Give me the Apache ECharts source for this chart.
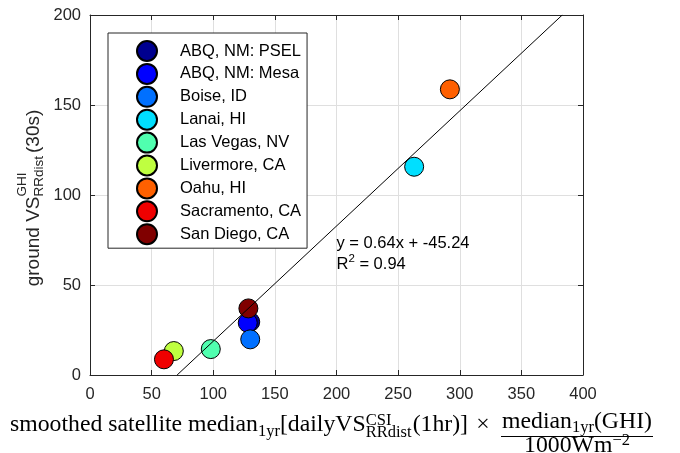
<!DOCTYPE html>
<html>
<head>
<meta charset="utf-8">
<script src="https://cdn.jsdelivr.net/npm/echarts@6/dist/echarts.min.js"></script>
<style>
  html, body { margin: 0; padding: 0; background: #fff; }
  #chart { width: 680px; height: 453px; }
</style>
</head>
<body>
<div id="chart"></div>
<script>
// ---- data ----
const sites = ['ABQ, NM: PSEL', 'ABQ, NM: Mesa', 'Boise, ID', 'Lanai, HI', 'Las Vegas, NV',
               'Livermore, CA', 'Oahu, HI', 'Sacramento, CA', 'San Diego, CA'];
const satelliteVS = [130, 128, 130, 263, 98, 68, 292, 60, 128.5];
const groundVS = [29.5, 29, 19.8, 115.7, 14.4, 13.3, 158.7, 8.7, 37];
const xTicks = [0, 50, 100, 150, 200, 250, 300, 350, 400];
const yTicks = [0, 50, 100, 150, 200];
const fitSlope = 0.64;
const fitIntercept = -45.24;
const fitR2 = 0.94;

// ---- styling ----
const siteColors = ['#00008f', '#0000ff', '#0070ff', '#00dfff', '#50ffaf',
                    '#bfff40', '#ff6000', '#ef0000', '#800000'];
const AXIS_GREY = '#262626';
const SANS = 'Liberation Sans';
const SERIF = 'Liberation Serif';
const BASE_SHIFT = 0.34;   // canvas "middle" baseline to alphabetic baseline, in em

// ---- small typesetting helper for labels with sub/superscripts ----
const meter = document.createElement('canvas').getContext('2d');
function widthOf(str, size, family) {
  meter.font = size + 'px "' + family + '"';
  return meter.measureText(str).width;
}
function glyphRun(str, x, baseline, size, family, color) {
  return {
    type: 'text', x: x, y: baseline - BASE_SHIFT * size, silent: true,
    style: { text: str, fontSize: size, fontFamily: family, fill: color,
             align: 'left', verticalAlign: 'middle' }
  };
}
// pieces are laid out left to right on a baseline at y = 0
function typeset(pieces, family, color, x0, y0) {
  let x = x0 || 0;
  const base = y0 || 0;
  const out = [];
  pieces.forEach(function (p) {
    if (p.gap !== undefined) { x += p.gap; return; }
    const rows = p.stack ? p.stack : [[p.text, p.dy || 0]];
    let adv = 0;
    rows.forEach(function (r) {
      out.push(glyphRun(r[0], x, base + r[1], p.size, family, color));
      adv = Math.max(adv, widthOf(r[0], p.size, family));
    });
    x += adv;
  });
  return { children: out, width: x - (x0 || 0) };
}

// x-axis title (serif, with a stacked fraction)
function buildXTitle() {
  const M = 23, S = 16;
  const lead = typeset([
    { text: 'smoothed satellite median', size: M },
    { text: '1yr', size: S, dy: 4 },
    { text: '[dailyVS', size: M },
    { stack: [['CSI', -6.5], ['RRdist', 5]], size: S },
    { gap: 1 },
    { text: '(1hr)]', size: M },
    { gap: 8 },
    { text: '\u00d7', size: M },
    { gap: 11 }
  ], SERIF, '#000');
  const numPieces = [
    { text: 'median', size: M },
    { text: '1yr', size: S, dy: 4 },
    { text: '(GHI)', size: M }
  ];
  const denPieces = [
    { text: '1000Wm', size: M },
    { text: '\u22122', size: S, dy: -8 }
  ];
  const numW = typeset(numPieces, SERIF, '#000').width;
  const denW = typeset(denPieces, SERIF, '#000').width;
  const fracW = Math.max(numW, denW) + 2;
  const fx = lead.width;
  const num = typeset(numPieces, SERIF, '#000', fx + (fracW - numW) / 2, -3.5);
  const den = typeset(denPieces, SERIF, '#000', fx + (fracW - denW) / 2, 21);
  const bar = { type: 'rect', silent: true,
                shape: { x: fx, y: 3, width: fracW, height: 1 },
                style: { fill: '#000' } };
  const total = fx + fracW;
  return {
    type: 'group', id: 'xTitle', x: 10, y: 433, scaleX: 643 / total,
    children: lead.children.concat(num.children, den.children, [bar])
  };
}

// y-axis title (sans, rotated)
function buildYTitle(centerY) {
  const M = 19, S = 13.5;
  const run = typeset([
    { text: 'ground VS', size: M },
    { stack: [['GHI', -13], ['RRdist', 4]], size: S },
    { gap: 3 },
    { text: '(30s)', size: M }
  ], SANS, AXIS_GREY);
  return {
    type: 'group', id: 'yTitle', x: 40, y: centerY + 3 + run.width / 2,
    rotation: Math.PI / 2, children: run.children
  };
}

// regression line end points, from the stated fit
const fitX0 = (yTicks[0] - fitIntercept) / fitSlope;
const fitX1 = (yTicks[yTicks.length - 1] - fitIntercept) / fitSlope;

const xMin = xTicks[0], xMax = xTicks[xTicks.length - 1], xStep = xTicks[1] - xTicks[0];
const yMin = yTicks[0], yMax = yTicks[yTicks.length - 1], yStep = yTicks[1] - yTicks[0];

const tickLabel = { color: AXIS_GREY, fontSize: 16.5, fontFamily: SANS };
function frameAxis(pos, min, max, step, showLabels, margin) {
  return {
    type: 'value', position: pos, min: min, max: max, interval: step,
    axisLine: { show: true, onZero: false, lineStyle: { color: AXIS_GREY, width: 1 } },
    axisTick: { show: true, inside: true, length: 5, lineStyle: { color: AXIS_GREY, width: 1 } },
    axisLabel: showLabels ? Object.assign({ show: true, margin: margin }, tickLabel) : { show: false },
    splitLine: { show: showLabels, lineStyle: { color: '#dfdfdf', width: 1 } }
  };
}

const chart = echarts.init(document.getElementById('chart'), null, { renderer: 'canvas' });

const siteSeries = sites.map(function (name, i) {
  return {
    type: 'scatter', name: name,
    data: [[satelliteVS[i], groundVS[i]]],
    symbol: 'circle', symbolSize: 19,
    itemStyle: { color: siteColors[i], borderColor: '#000', borderWidth: 1, opacity: 1 },
    emphasis: { disabled: true },
    z: 2
  };
});

chart.setOption({
  animation: false,
  backgroundColor: '#fff',
  grid: { left: 90, right: 97, top: 15, bottom: 78, containLabel: false, outerBoundsMode: 'none' },
  xAxis: [frameAxis('bottom', xMin, xMax, xStep, true, 11), frameAxis('top', xMin, xMax, xStep, false)],
  yAxis: [frameAxis('left', yMin, yMax, yStep, true, 9), frameAxis('right', yMin, yMax, yStep, false)],
  legend: {
    data: sites, orient: 'vertical', left: 108, top: 33,
    padding: [7, 6, 3, 28], itemWidth: 20, itemHeight: 20, itemGap: 0.9,
    icon: 'circle', selectedMode: false,
    borderColor: AXIS_GREY, borderWidth: 1, borderRadius: 0, backgroundColor: '#fff',
    textStyle: { color: '#000', fontSize: 16.5, fontFamily: SANS, lineHeight: 20,
                 padding: [0, 0, 0, 18] }
  },
  series: siteSeries.concat([{
    type: 'line', name: 'fit', data: [[fitX0, yTicks[0]], [fitX1, yTicks[yTicks.length - 1]]],
    symbol: 'none', silent: true, lineStyle: { color: '#000', width: 1 }, z: 3
  }])
});

// annotation anchored in data space, next to the fit line
const anchor = chart.convertToPixel({ gridIndex: 0 }, [200, 65]);
const eq = typeset([
  { text: 'y = ' + fitSlope.toFixed(2) + 'x + ' + fitIntercept.toFixed(2), size: 16.5 }
], SANS, '#000', anchor[0], anchor[1] - 9);
const r2 = typeset([
  { text: 'R', size: 16.5 },
  { text: '2', size: 11.5, dy: -7 },
  { text: ' = ' + fitR2.toFixed(2), size: 16.5 }
], SANS, '#000', anchor[0], anchor[1] + 12);

const plotTop = chart.convertToPixel({ gridIndex: 0 }, [0, yMax])[1];
const plotBottom = chart.convertToPixel({ gridIndex: 0 }, [0, yMin])[1];

chart.setOption({
  graphic: [
    buildXTitle(),
    buildYTitle((plotTop + plotBottom) / 2),
    { type: 'group', id: 'fitNote', z: 10, children: eq.children.concat(r2.children) }
  ]
});
</script>
</body>
</html>
